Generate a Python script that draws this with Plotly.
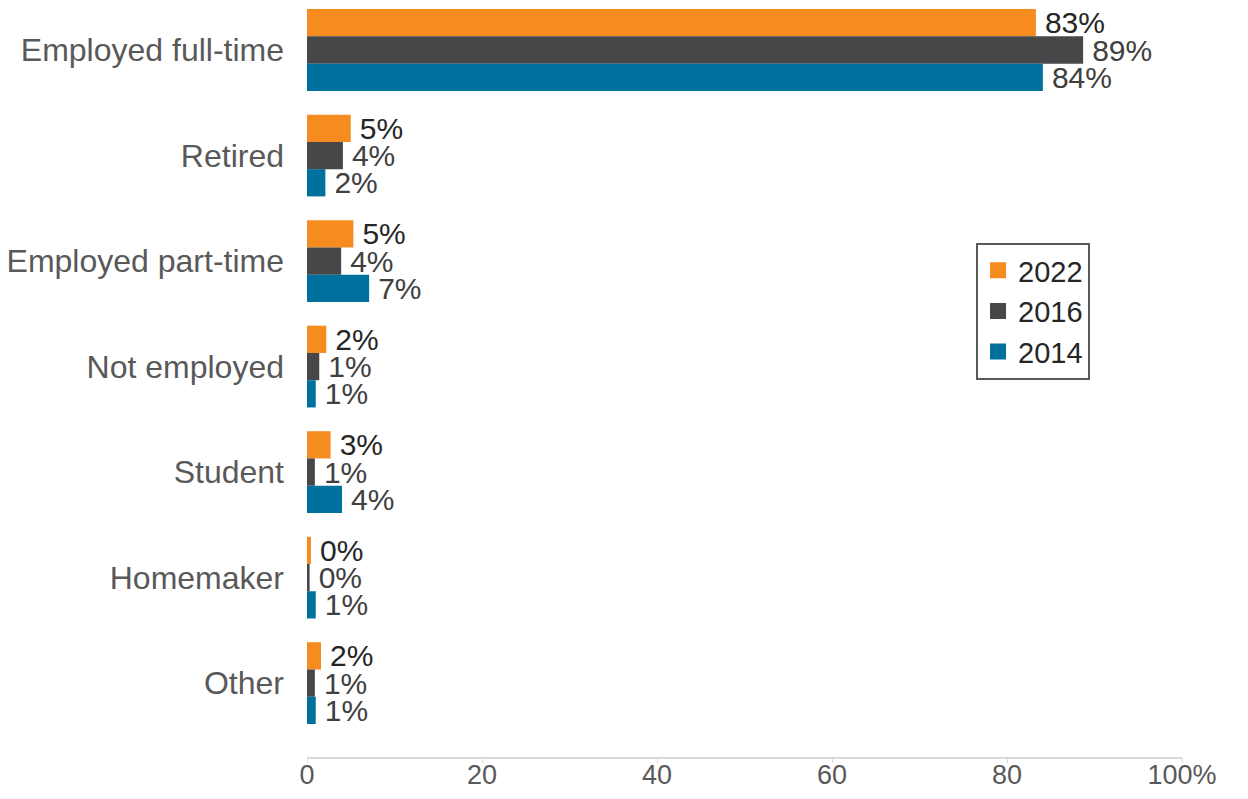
import plotly.graph_objects as go

categories = ["Employed full-time", "Retired", "Employed part-time", "Not employed",
              "Student", "Homemaker", "Other"]
years = ["2022", "2016", "2014"]
v2022 = [83.3, 5.0, 5.3, 2.2, 2.7, 0.45, 1.6]
v2016 = [88.7, 4.1, 3.9, 1.4, 0.9, 0.3, 0.9]
v2014 = [84.1, 2.1, 7.1, 1.0, 4.0, 1.0, 1.0]
lab2022 = ["83%", "5%", "5%", "2%", "3%", "0%", "2%"]
lab2016 = ["89%", "4%", "4%", "1%", "1%", "0%", "1%"]
lab2014 = ["84%", "2%", "7%", "1%", "4%", "1%", "1%"]
x_ticks = [0, 20, 40, 60, 80, 100]
x_ticktext = ["0", "20", "40", "60", "80", "100%"]

colors = ["#F68B1F", "#474749", "#00709F"]
label_colors = ["#262626", "#404040", "#404040"]
FONT = "Arial, Liberation Sans, sans-serif"

fig = go.Figure()
for yr, vals, labs, c, lc in zip(years, [v2022, v2016, v2014],
                                 [lab2022, lab2016, lab2014], colors, label_colors):
    fig.add_trace(go.Bar(
        y=categories, x=vals, orientation="h", name=yr,
        marker=dict(color=c, line=dict(width=0)),
        text=["\u2009" + t for t in labs], textposition="outside",
        textfont=dict(family=FONT, size=30, color=lc),
        constraintext="none", cliponaxis=False, showlegend=False,
    ))
    # legend swatch (on the overlay axis that only draws tick marks)
    fig.add_trace(go.Scatter(
        x=[None], y=[None], mode="markers", name=yr, xaxis="x2",
        marker=dict(symbol="square", size=16, color=c),
    ))

# page body has an 8px margin, so the figure is 16px smaller than the window
fig.update_layout(
    width=1232, height=783,
    barmode="group", bargap=0.225, bargroupgap=0,
    plot_bgcolor="white", paper_bgcolor="white",
    margin=dict(l=299, r=58, t=0, b=34),
    font=dict(family=FONT, color="#595959"),
    legend=dict(
        x=0.7646, y=0.595, xanchor="left", yanchor="middle",
        bordercolor="#595959", borderwidth=2,
        font=dict(family=FONT, size=29, color="#262626"),
        tracegroupgap=0,
    ),
    # tick marks only, so the labels of xaxis can sit close to the line
    xaxis2=dict(
        overlaying="x", side="bottom", anchor="y", range=[0, 100],
        tickvals=x_ticks, showticklabels=False, showgrid=False, zeroline=False,
        showline=False, ticks="outside", ticklen=5, tickcolor="#D9D9D9", tickwidth=1,
    ),
    xaxis=dict(
        range=[0, 100], tickvals=x_ticks, ticktext=x_ticktext,
        showgrid=False, zeroline=False, automargin=False,
        showline=True, linecolor="#D9D9D9", linewidth=2, ticks="",
        tickfont=dict(family=FONT, size=27, color="#595959"),
    ),
    yaxis=dict(
        range=[6.70, -0.398], autorange=False,
        showgrid=False, zeroline=False, showline=False, ticks="",
        ticklabelstandoff=22,
        tickfont=dict(family=FONT, size=32, color="#595959"),
    ),
)
try:
    fig.layout.xaxis.ticklabelstandoff = -7
except ValueError:
    pass

fig.write_html("out.html")
